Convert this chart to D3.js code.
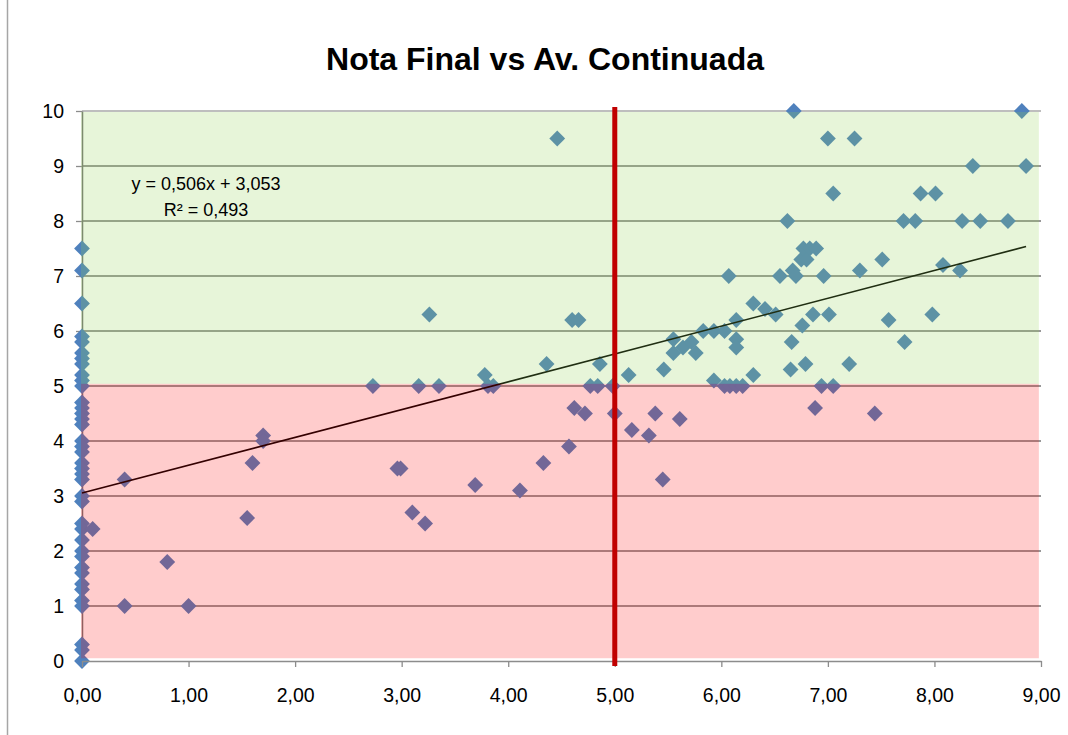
<!DOCTYPE html>
<html>
<head>
<meta charset="utf-8">
<script src="https://cdn.jsdelivr.net/npm/d3@7"></script>
<style>
  body { margin: 0; background: #fff; }
  text { font-family: "Liberation Sans", Arial, sans-serif; fill: #000; }
</style>
</head>
<body>
<div id="chart"></div>
<script>
// values
var titleText = "Nota Final vs Av. Continuada";
var eqText = "y = 0,506x + 3,053";
var r2Text = "R\u00b2 = 0,493";
var trendSlope = 0.506, trendIntercept = 3.053;
var passMark = 5;
var xTicks = [0, 1, 2, 3, 4, 5, 6, 7, 8, 9];
var yTicks = [0, 1, 2, 3, 4, 5, 6, 7, 8, 9, 10];

// students with Av. Continuada = 0
var zeroNotas = [7.5, 7.1, 6.5, 5.9, 5.8, 5.6, 5.5, 5.4, 5.2, 5.1, 5.0, 4.7, 4.6, 4.5, 4.4, 4.3,
  4.0, 3.9, 3.8, 3.6, 3.5, 3.4, 3.3, 3.0, 2.9, 2.5, 2.4, 2.2, 2.0, 1.9, 1.7, 1.6, 1.4, 1.3,
  1.1, 1.0, 0.3, 0.2, 0];

var avContinuada = [
  0.1, 0.4, 0.4, 0.8, 1.0, 1.55, 1.6, 1.7, 1.7,
  2.73, 2.96, 2.99, 3.1, 3.16, 3.22, 3.26, 3.35, 3.69, 3.78, 3.81, 3.86,
  4.11, 4.33, 4.36, 4.46, 4.57, 4.6, 4.66, 4.62, 4.72, 4.77, 4.84, 4.86, 4.98, 5.0,
  5.13, 5.16, 5.32, 5.38, 5.45, 5.46, 5.55, 5.55, 5.61, 5.64, 5.72, 5.76, 5.83, 5.93, 5.93,
  6.03, 6.03, 6.07, 6.08, 6.14, 6.14, 6.14, 6.14, 6.2, 6.3, 6.3, 6.41, 6.51, 6.55, 6.62,
  6.65, 6.66, 6.67, 6.68, 6.7, 6.75, 6.76, 6.77, 6.79, 6.8, 6.83, 6.86, 6.88, 6.89, 6.94, 6.96,
  7.0, 7.01, 7.05, 7.05, 7.2, 7.25, 7.3, 7.44, 7.51, 7.57, 7.71, 7.72, 7.82, 7.87, 7.98,
  8.01, 8.08, 8.24, 8.26, 8.36, 8.43, 8.69, 8.82, 8.86
];
var notaFinal = [
  2.4, 3.3, 1.0, 1.8, 1.0, 2.6, 3.6, 4.1, 4.0,
  5.0, 3.5, 3.5, 2.7, 5.0, 2.5, 6.3, 5.0, 3.2, 5.2, 5.0, 5.0,
  3.1, 3.6, 5.4, 9.5, 3.9, 6.2, 6.2, 4.6, 4.5, 5.0, 5.0, 5.4, 5.0, 4.5,
  5.2, 4.2, 4.1, 4.5, 3.3, 5.3, 5.85, 5.6, 4.4, 5.7, 5.8, 5.6, 6.0, 6.0, 5.1,
  6.0, 5.0, 7.0, 5.0, 6.2, 5.85, 5.7, 5.0, 5.0, 6.5, 5.2, 6.4, 6.3, 7.0, 8.0,
  5.3, 5.8, 7.1, 10.0, 7.0, 7.3, 6.1, 7.5, 5.4, 7.3, 7.5, 6.3, 4.6, 7.5, 5.0, 7.0,
  9.5, 6.3, 8.5, 5.0, 5.4, 9.5, 7.1, 4.5, 7.3, 6.2, 8.0, 5.8, 8.0, 8.5, 6.3,
  8.5, 7.2, 7.1, 8.0, 9.0, 8.0, 8.0, 10.0, 9.0
];

var points = zeroNotas.map(function(v) { return [0, v]; })
  .concat(avContinuada.map(function(v, i) { return [v, notaFinal[i]]; }));

var width = 1068, height = 735;
var svg = d3.select("#chart").append("svg")
  .attr("width", width).attr("height", height);

svg.append("rect").attr("width", width).attr("height", height).attr("fill", "#fff");
// chart border (left edge visible)
svg.append("line").attr("x1", 7.5).attr("x2", 7.5).attr("y1", 0).attr("y2", height)
  .attr("stroke", "#a6a6a6").attr("stroke-width", 1.5);

var x = d3.scaleLinear().domain([0, 9]).range([82, 1041]);
var y = d3.scaleLinear().domain([0, 10]).range([661, 111]);

var comma = function(f) { return function(d) { return f(d).replace(".", ","); }; };

// gridlines
svg.append("g").selectAll("line").data(yTicks.slice(1)).enter().append("line")
  .attr("x1", x(0)).attr("x2", x(9)).attr("y1", function(d) { return y(d); }).attr("y2", function(d) { return y(d); })
  .attr("stroke", function(d) { return d == 10 ? "#a8a8a8" : "#767676"; })
  .attr("stroke-width", 1.5);

// y axis
var yAxis = svg.append("g").attr("transform", "translate(" + x(0) + ",0)")
  .call(d3.axisLeft(y).tickValues(yTicks).tickSize(6).tickSizeOuter(0).tickPadding(12));
yAxis.select(".domain").attr("stroke", "#767676").attr("stroke-width", 1.5);
yAxis.selectAll(".tick line").attr("stroke", "#8c8c8c").attr("stroke-width", 1.3);
yAxis.selectAll("text").style("font-size", "19.5px").attr("fill", "#000");

// markers
var diamond = d3.symbol().type(d3.symbolSquare).size(125);
svg.append("g").selectAll("path").data(points).enter().append("path")
  .attr("d", diamond)
  .attr("transform", function(d) { return "translate(" + x(d[0]) + "," + y(d[1]) + ") rotate(45)"; })
  .attr("fill", "#4f81bd");

// trendline
var xMax = d3.max(points, function(d) { return d[0]; });
svg.append("path")
  .datum([0, xMax])
  .attr("d", d3.line().x(function(d) { return x(d); }).y(function(d) { return y(trendSlope * d + trendIntercept); }))
  .attr("stroke", "#000").attr("stroke-width", 1.6).attr("fill", "none");

// pass / fail shading, laid over the markers
svg.append("rect").attr("x", x(0) - 1).attr("y", y(10) + 1)
  .attr("width", x(8.98) - x(0) + 1).attr("height", y(5.04) - y(10) - 1)
  .attr("fill", "rgb(146,208,80)").attr("fill-opacity", 0.22);
svg.append("rect").attr("x", x(0) - 1).attr("y", y(5.04))
  .attr("width", x(8.98) - x(0) + 1).attr("height", y(0.05) - y(5.04))
  .attr("fill", "rgb(255,0,0)").attr("fill-opacity", 0.2);

// x axis
var xAxis = svg.append("g").attr("transform", "translate(0," + y(0) + ")")
  .call(d3.axisBottom(x).tickValues(xTicks).tickSize(6).tickSizeOuter(0).tickPadding(21)
    .tickFormat(comma(d3.format(".2f"))));
xAxis.select(".domain").attr("stroke", "#8c8c8c").attr("stroke-width", 1.5);
xAxis.selectAll(".tick line").attr("stroke", "#8c8c8c").attr("stroke-width", 1.3);
xAxis.selectAll("text").style("font-size", "19.5px").attr("fill", "#000");

// pass mark line
svg.append("line").attr("x1", x(passMark)).attr("x2", x(passMark))
  .attr("y1", y(10) - 4).attr("y2", y(0) + 5)
  .attr("stroke", "#c00000").attr("stroke-width", 5);

// title
svg.append("text").attr("x", 545).attr("y", 70).attr("text-anchor", "middle")
  .style("font-size", "32px").style("font-weight", "bold").text(titleText);

// trendline equation
svg.append("text").attr("x", 206).attr("y", 190).attr("text-anchor", "middle")
  .style("font-size", "18px").text(eqText);
svg.append("text").attr("x", 206).attr("y", 216).attr("text-anchor", "middle")
  .style("font-size", "18px").text(r2Text);
</script>
</body>
</html>
